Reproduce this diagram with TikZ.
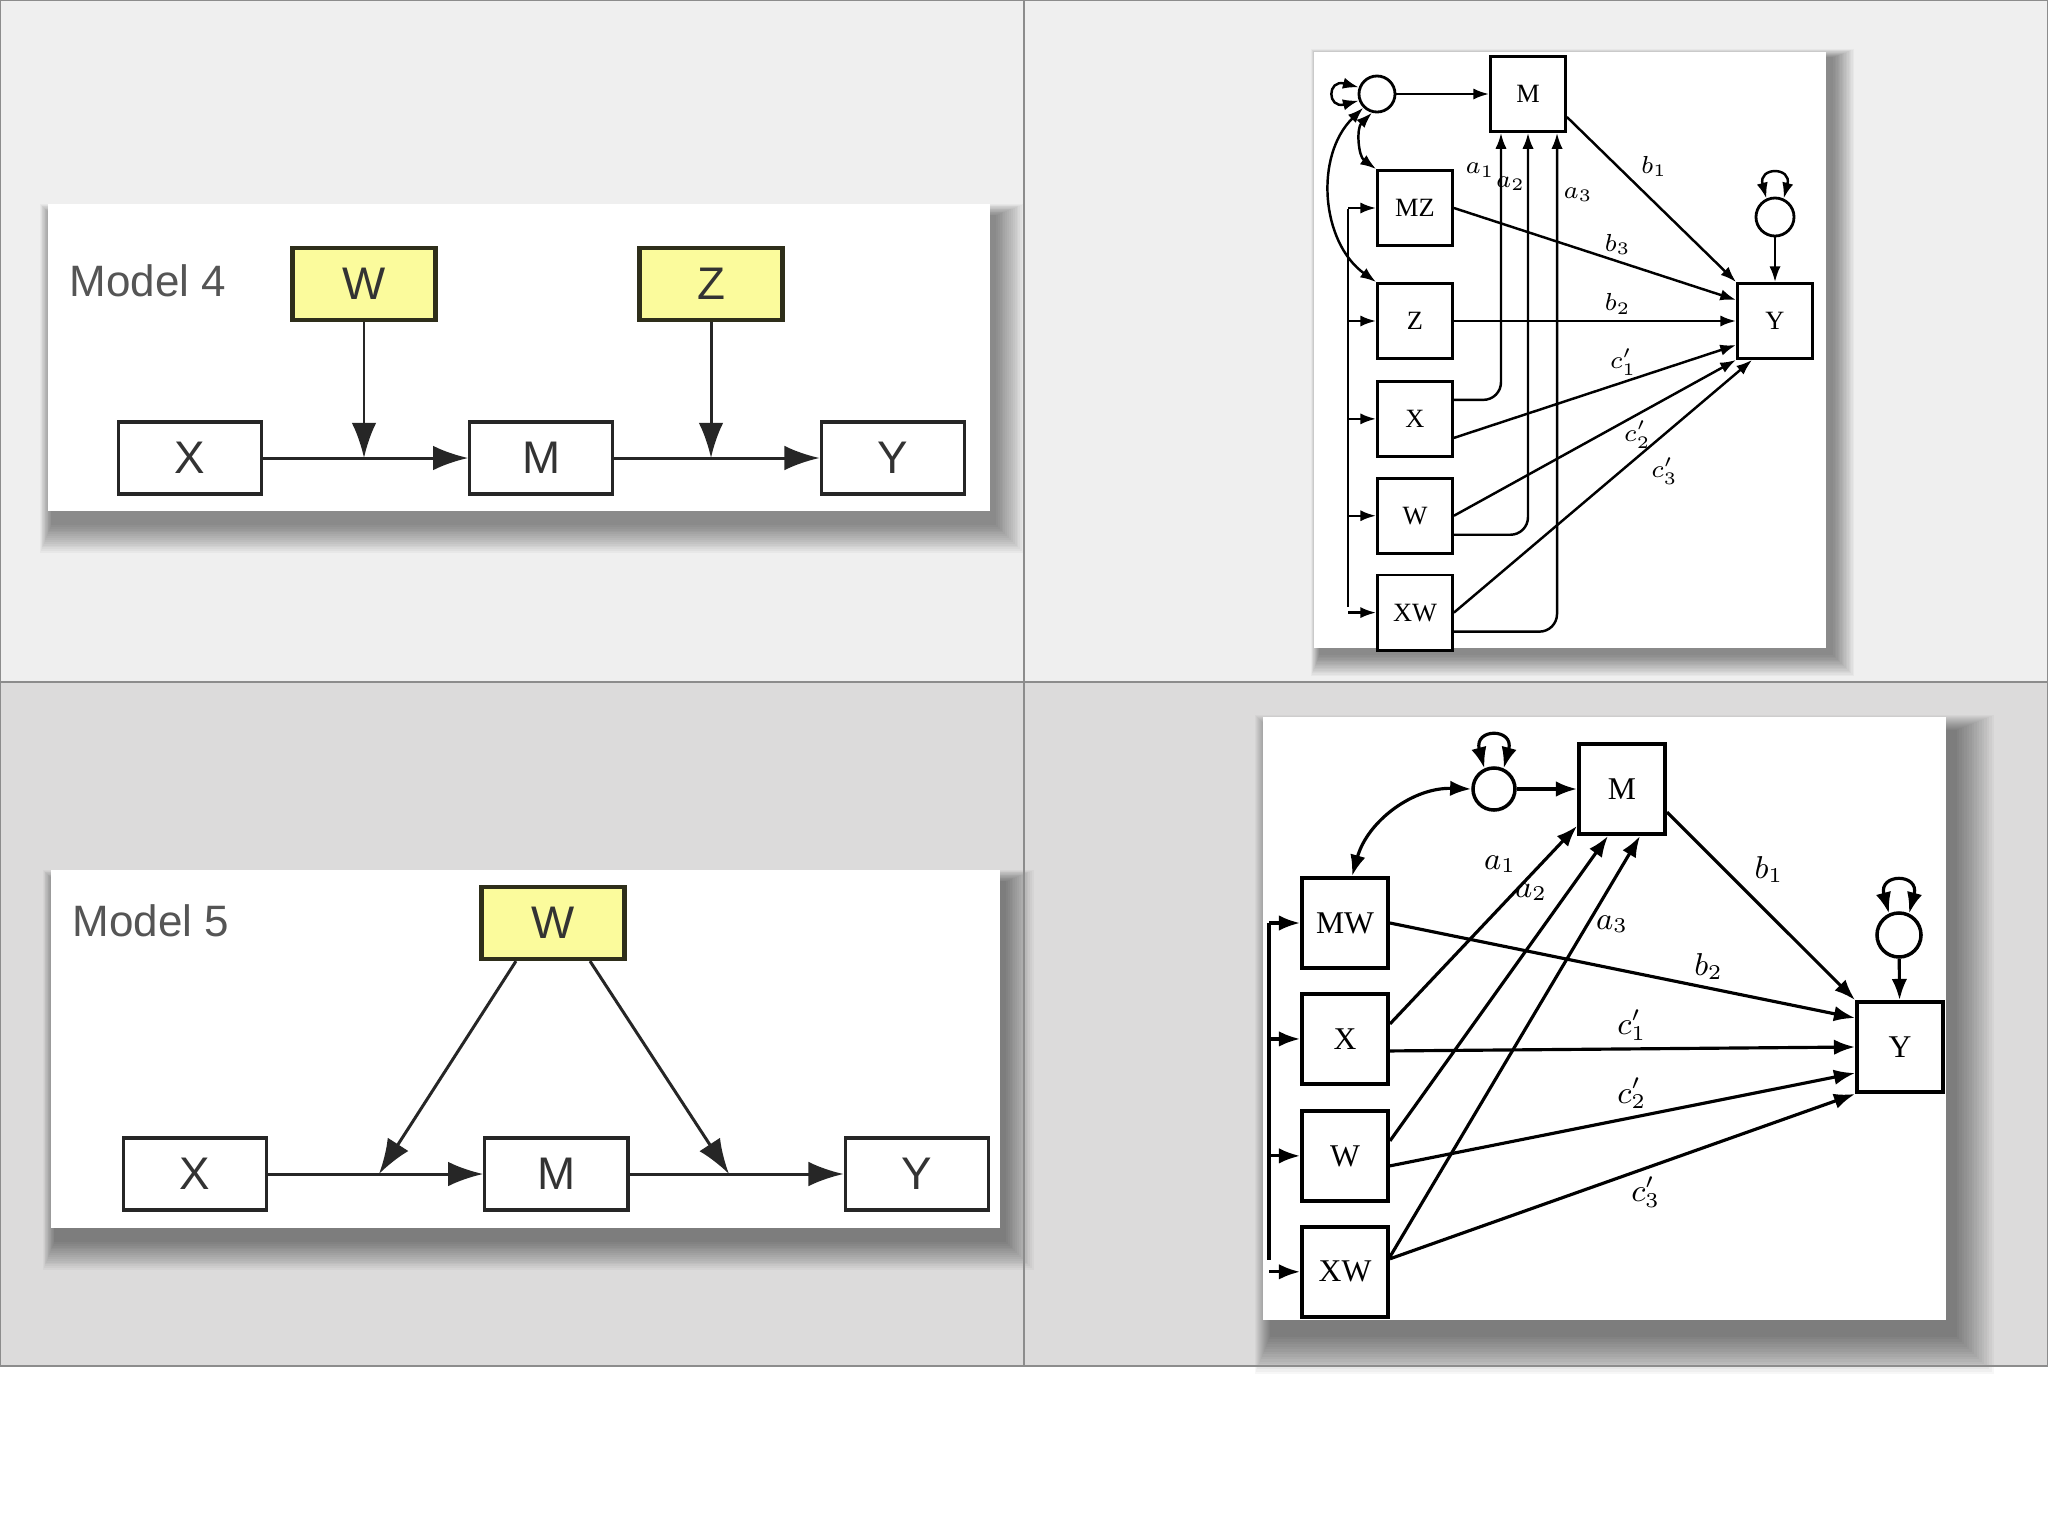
\documentclass[tikz,border=0pt]{standalone}
\usepackage{fontspec}
\setmainfont{Liberation Serif}
\setsansfont{Liberation Sans}
\usetikzlibrary{positioning,arrows.meta,calc}
\definecolor{rowtop}{HTML}{EFEFEF}
\definecolor{rowbot}{HTML}{DCDBDB}
\definecolor{gridline}{HTML}{8C8C8C}
\definecolor{modyellow}{HTML}{FBFB9C}
\definecolor{modedge}{HTML}{2E2E1A}
\definecolor{labgray}{HTML}{555555}

% soft shadow under a white panel: x1 y1 x2 y2, offset x y, blur
\newcommand{\panelshade}[7]{%
  \foreach \k in {1,...,16}{%
    \pgfmathsetmacro{\spread}{\k/16*#7}%
    \fill[black,opacity=0.03] ({#1+#5-0.4*\spread},{#2+#6-0.4*\spread}) rectangle ({#3+#5+\spread},{#4+#6+\spread});
  }}

\begin{document}
\begin{tikzpicture}[
		x=0.01cm,y=-0.01cm,
		mbox/.style={draw=black!85, line width=0.9pt, fill=white, minimum width=1.43cm, minimum height=0.72cm, inner sep=0pt, font=\sffamily\fontsize{13}{15}\selectfont, text=black!80},
		modbox/.style={mbox, fill=modyellow, draw=modedge, line width=1.2pt},
		mlabel/.style={font=\sffamily\fontsize{12.5}{15}\selectfont, text=labgray},
		marr/.style={-{Latex[length=10pt,width=7pt]}, line width=0.85pt, draw=black!85},
		sbox/.style={draw, line width=0.8pt, fill=white, minimum size=0.75cm, inner sep=0pt, font=\fontsize{7.5}{9}\selectfont},
		bbox/.style={sbox, line width=1.1pt, minimum width=0.86cm, minimum height=0.9cm, font=\fontsize{9}{11}\selectfont},
		ecirc/.style={circle, draw, line width=0.8pt, fill=white, minimum size=0.36cm, inner sep=0pt},
		sarr/.style={-{Latex[length=4.5pt,width=3.2pt]}, line width=0.7pt},
		sdarr/.style={{Latex[length=4.5pt,width=3.2pt]}-{Latex[length=4.5pt,width=3.2pt]}, line width=0.7pt},
		barr/.style={-{Latex[length=6pt,width=4.4pt]}, line width=0.9pt},
		bdarr/.style={{Latex[length=6pt,width=4.4pt]}-{Latex[length=6pt,width=4.4pt]}, line width=0.9pt},
		slab/.style={font=\fontsize{7}{8}\selectfont, inner sep=1.5pt},
		blab/.style={font=\fontsize{9}{10}\selectfont, inner sep=2pt}
		]
		
		\useasboundingbox (0,0) rectangle (2048,1536);
		\fill[white] (0,0) rectangle (2048,1536);
		\fill[rowtop] (0,0) rectangle (2048,682);
		\fill[rowbot] (0,682) rectangle (2048,1366);
		
		\panelshade{48}{204}{990}{511}{4}{12}{30}
		\panelshade{51}{870}{1000}{1228}{4}{12}{30}
		\panelshade{1314}{52}{1826}{648}{6}{6}{22}
		\panelshade{1263}{717}{1946}{1320}{8}{14}{40}
		
		\draw[gridline, line width=0.6pt] (0,0) rectangle (2048,1366);
		\draw[gridline, line width=0.6pt] (1024,0) -- (1024,1366);
		\draw[gridline, line width=0.6pt] (0,682) -- (2048,682);
		
		\fill[white] (48,204) rectangle (990,511);
		\fill[white] (51,870) rectangle (1000,1228);
		\fill[white] (1314,52) rectangle (1826,648);
		\fill[white] (1263,717) rectangle (1946,1320);
		
		% Model 4
		\node[mlabel] (t4) at (148,281) {Model 4};
		\node[mbox] (x4) at (190,458) {X};
		\node[mbox] (m4) [right=2.05cm of x4] {M};
		\node[mbox] (y4) [right=2.05cm of m4] {Y};
		\node[modbox] (w4) at (364,284) {W};
		\node[modbox] (z4) at (711,284) {Z};
		\coordinate (j4a) at (w4 |- x4);
		\coordinate (j4b) at (z4 |- x4);
		
		\draw[marr] (x4)--(m4);
		\draw[marr] (m4)--(y4);
		\draw[marr] (w4)--(j4a);
		\draw[marr] (z4)--(j4b);
		
		% Model 5
		\node[mlabel] (t5) at (151,921) {Model 5};
		\node[mbox] (x5) at (195,1174) {X};
		\node[mbox] (m5) [right=2.15cm of x5] {M};
		\node[mbox] (y5) [right=2.14cm of m5] {Y};
		\node[modbox] (w5) at (553,923) {W};
		\coordinate (j5a) at (379,1174);
		\coordinate (j5b) at (729,1174);
		
		\draw[marr] (x5)--(m5);
		\draw[marr] (m5)--(y5);
		\draw[marr] ([xshift=-0.37cm]w5.south)--(j5a);
		\draw[marr] ([xshift=0.37cm]w5.south)--(j5b);
		
		% model 4 as a path diagram
		\node[ecirc] (te1) at (1377,94) {};
		\node[sbox] (tm) at (1528,94) {M};
		\node[sbox] (tmz) at (1415,208) {MZ};
		\node[sbox] (tz) at (1415,321) {Z};
		\node[sbox] (tx) [below=0.2cm of tz] {X};
		\node[sbox] (tw) [below=0.19cm of tx] {W};
		\node[sbox] (txw) [below=0.19cm of tw] {XW};
		\node[sbox] (ty) at (1775,321) {Y};
		\node[ecirc, minimum size=0.38cm] (te2) at (1775,217) {};
		\coordinate (tbus1) at (1348,209);
		\coordinate (tbus2) at (1348,607);
		
		\draw[line width=0.7pt] (tbus1)--(tbus2);
		\foreach \n in {tmz,tz,tx,tw,txw}
		\draw[sarr] (\n.west -| tbus1)--(\n.west);
		
		\draw[sdarr] (te1.160) .. controls +(165:0.33cm) and +(195:0.33cm) .. (te1.200);
		\draw[sdarr] (te2.115) .. controls +(105:0.33cm) and +(75:0.33cm) .. (te2.65);
		\draw[sdarr] (te1.255) to[bend right=50] (tmz.north west);
		\draw[sdarr] (te1.225) to[bend right=50] (tz.north west);
		\draw[sarr] (te1)--(tm);
		\draw[sarr] (te2)--(ty);
		
		\draw[sarr, rounded corners=5pt] ([yshift=0.19cm]tx.east) -| ([xshift=-0.27cm]tm.south) node[slab, left, pos=0.93] {$a_1$};
		\draw[sarr, rounded corners=5pt] ([yshift=-0.19cm]tw.east) -| (tm.south) node[slab, left, inner sep=0.5pt, pos=0.937] {$a_2$};
		\draw[sarr, rounded corners=5pt] ([yshift=-0.19cm]txw.east) -| ([xshift=0.29cm]tm.south) node[slab, right, pos=0.938] {$a_3$};
		
		\draw[sarr] ([yshift=-0.23cm]tm.east)--(ty.north west) node[slab, above right, pos=0.4] {$b_1$};
		\draw[sarr] (tmz.east)--([yshift=0.21cm]ty.west) node[slab, above, pos=0.58] {$b_3$};
		\draw[sarr] (tz.east)--(ty.west) node[slab, above, pos=0.58] {$b_2$};
		\draw[sarr] ([yshift=-0.19cm]tx.east)--([yshift=-0.24cm]ty.west) node[slab, above, pos=0.6] {$c'_1$};
		\draw[sarr] (tw.east)--(ty.south west) node[slab, below, pos=0.65] {$c'_2$};
		\draw[sarr] (txw.east)--([xshift=0.16cm]ty.south west) node[slab, below right, pos=0.64] {$c'_3$};
		
		% model 5 as a path diagram
		\node[ecirc, line width=1pt, minimum size=0.42cm] (be1) at (1494,789) {};
		\node[bbox] (bm) at (1622,789) {M};
		\node[bbox] (bmw) at (1345,923) {MW};
		\node[bbox] (bx) [below=0.22cm of bmw] {X};
		\node[bbox] (bw) [below=0.23cm of bx] {W};
		\node[bbox] (bxw) [below=0.22cm of bw] {XW};
		\node[bbox] (by) at (1900,1047) {Y};
		\node[ecirc, line width=1pt, minimum size=0.44cm] (be2) at (1899,935) {};
		\coordinate (bbus1) at (1269,923);
		\coordinate (bbus2) at (1269,1260);
		
		\draw[line width=0.9pt] (bbus1)--(bbus2);
		\foreach \n in {bmw,bx,bw,bxw}
		\draw[barr] (\n.west -| bbus1)--(\n.west);
		
		\draw[bdarr] (be1.115) .. controls +(105:0.42cm) and +(75:0.42cm) .. (be1.65);
		\draw[bdarr] (be2.115) .. controls +(105:0.42cm) and +(75:0.42cm) .. (be2.65);
		\draw[bdarr] (be1.west) to[bend right=38] ([xshift=0.07cm]bmw.north);
		\draw[barr] (be1)--(bm);
		\draw[barr] (be2)--(by);
		
		\draw[barr] ([yshift=0.15cm]bx.east)--([yshift=0.1cm]bm.south west) node[blab, above left, pos=0.72] {$a_1$};
		\draw[barr] ([yshift=0.15cm]bw.east)--([xshift=-0.14cm]bm.south) node[blab, above left, pos=0.76] {$a_2$};
		\draw[barr] ([yshift=0.15cm]bxw.east)--([xshift=0.18cm]bm.south) node[blab, right, pos=0.79] {$a_3$};
		
		\draw[barr] ([yshift=-0.23cm]bm.east)--(by.north west) node[blab, above right, pos=0.42] {$b_1$};
		\draw[barr] (bmw.east)--([yshift=0.29cm]by.west) node[blab, above, pos=0.685] {$b_2$};
		\draw[barr] ([yshift=-0.12cm]bx.east)--(by.west) node[blab, above, pos=0.52] {$c'_1$};
		\draw[barr] ([yshift=-0.1cm]bw.east)--([yshift=-0.26cm]by.west) node[blab, above, pos=0.52] {$c'_2$};
		\draw[barr] ([yshift=0.13cm]bxw.east)--(by.south west) node[blab, below, pos=0.55] {$c'_3$};
		
\end{tikzpicture}
\end{document}
